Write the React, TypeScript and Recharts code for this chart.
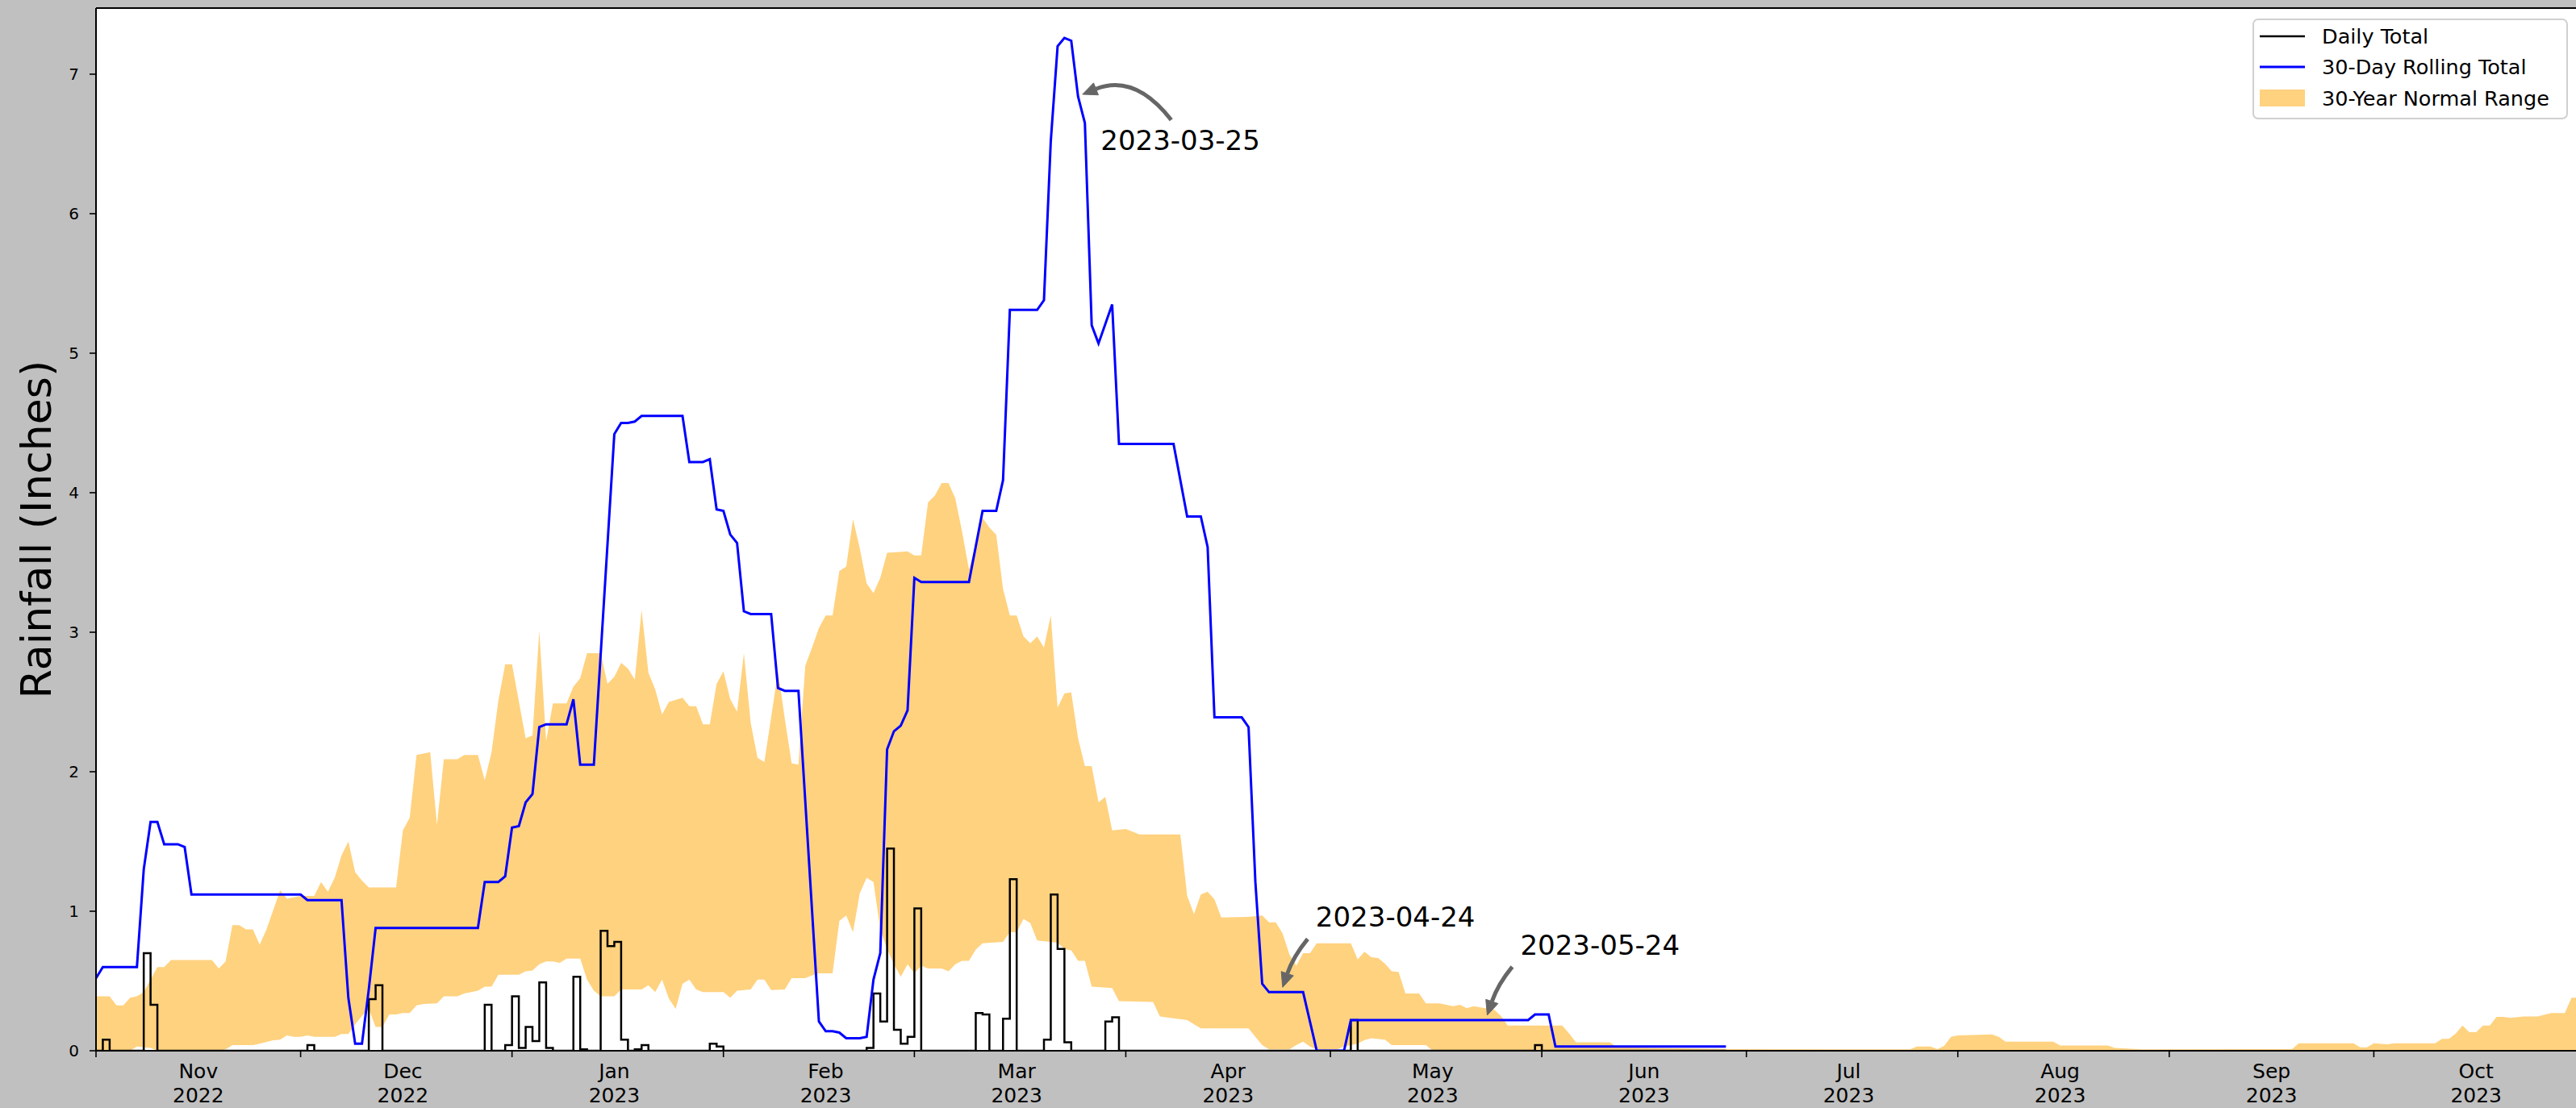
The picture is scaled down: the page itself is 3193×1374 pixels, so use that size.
import React from 'react';
import {
  ComposedChart,
  Line,
  Area,
  XAxis,
  YAxis,
  CartesianGrid,
  ReferenceLine,
  ReferenceDot,
} from 'recharts';

// ---------------------------------------------------------------------------
// Data  (day 0 = 2022-11-01)
// ---------------------------------------------------------------------------
const monthStartDays = [0, 30, 61, 92, 120, 151, 181, 212, 242, 273, 304, 334];
const monthLabelDays = [15, 45, 76, 107, 135, 166, 196, 227, 257, 288, 319, 349];
const monthNames = ['Nov', 'Dec', 'Jan', 'Feb', 'Mar', 'Apr', 'May', 'Jun', 'Jul', 'Aug', 'Sep', 'Oct'];
const monthYears = ['2022', '2022', '2023', '2023', '2023', '2023', '2023', '2023', '2023', '2023', '2023', '2023'];
const yTicks = [0, 1, 2, 3, 4, 5, 6, 7];

const seriesNames = ['Daily Total', '30-Day Rolling Total', '30-Year Normal Range'];

// daily rainfall (only the days with rain), record runs to day 239
const dailyLastDay = 239;
const rainDays = [1, 7, 8, 31, 40, 41, 57, 60, 61, 62, 63, 64, 65, 66, 70, 71, 74, 75, 76, 77, 79, 80, 90, 91,
  113, 114, 115, 116, 117, 118, 119, 120, 129, 130, 133, 134, 139, 140, 141, 142, 148, 149, 184, 211];
const rainValues = [0.08, 0.70, 0.33, 0.04, 0.37, 0.47, 0.33, 0.04, 0.39, 0.02, 0.17, 0.07, 0.49, 0.02, 0.53, 0.01,
  0.86, 0.75, 0.78, 0.08, 0.01, 0.04, 0.05, 0.03, 0.02, 0.41, 0.21, 1.45, 0.15, 0.05, 0.10, 1.02, 0.27, 0.26,
  0.23, 1.23, 0.08, 1.12, 0.73, 0.06, 0.21, 0.24, 0.22, 0.04];

// 30-day rolling total [day, inches]
const rolling: [number, number][] = [
  [0, 0.52], [1, 0.60], [6, 0.60], [7, 1.30], [8, 1.64], [9, 1.64], [10, 1.48], [12, 1.48], [13, 1.46], [14, 1.12],
  [30, 1.12], [31, 1.08], [36, 1.08], [37, 0.38], [38, 0.05], [39, 0.05], [40, 0.44], [41, 0.88], [56, 0.88],
  [57, 1.21], [59, 1.21], [60, 1.25], [61, 1.60], [62, 1.61], [63, 1.78], [64, 1.84], [65, 2.32], [66, 2.34],
  [69, 2.34], [70, 2.52], [71, 2.05], [73, 2.05], [76, 4.42], [77, 4.50], [78, 4.50], [79, 4.51], [80, 4.55],
  [86, 4.55], [87, 4.22], [89, 4.22], [90, 4.24], [91, 3.88], [92, 3.87], [93, 3.70], [94, 3.64], [95, 3.15],
  [96, 3.13], [99, 3.13], [100, 2.60], [101, 2.58], [103, 2.58], [106, 0.21], [107, 0.14], [108, 0.14],
  [109, 0.13], [110, 0.09], [112, 0.09], [113, 0.10], [114, 0.51], [115, 0.70], [116, 2.16], [117, 2.29],
  [118, 2.33], [119, 2.44], [120, 3.39], [121, 3.36], [128, 3.36], [130, 3.87], [132, 3.87], [133, 4.09],
  [134, 5.31], [138, 5.31], [139, 5.38], [140, 6.52], [141, 7.20], [142, 7.26], [143, 7.24], [144, 6.84],
  [145, 6.65], [146, 5.20], [147, 5.07], [149, 5.35], [150, 4.35], [158, 4.35], [160, 3.83], [162, 3.83],
  [163, 3.61], [164, 2.39], [168, 2.39], [169, 2.32], [170, 1.21], [171, 0.48], [172, 0.42], [177, 0.42],
  [179, 0.00], [183, 0.00], [184, 0.22], [210, 0.22], [211, 0.26], [213, 0.26], [214, 0.03], [239, 0.03],
];

// 30-year normal range, upper edge [day, inches]
const normalHigh: [number, number][] = [
  [0, 0.39], [2, 0.39], [3, 0.325], [4, 0.325], [5, 0.38], [6, 0.39], [7, 0.42], [9, 0.60], [10, 0.60], [11, 0.65],
  [17, 0.65], [18, 0.59], [19, 0.64], [20, 0.90], [21, 0.90], [22, 0.87], [23, 0.87], [24, 0.76], [25, 0.87],
  [26, 1.01], [27, 1.15], [28, 1.09], [30, 1.11], [32, 1.11], [33, 1.21], [34, 1.14], [35, 1.24], [36, 1.40],
  [37, 1.50], [38, 1.28], [39, 1.22], [40, 1.17], [44, 1.17], [45, 1.58], [46, 1.67], [47, 2.12], [49, 2.14],
  [50, 1.62], [51, 2.09], [53, 2.09], [54, 2.12], [56, 2.12], [57, 1.94], [58, 2.14], [59, 2.51], [60, 2.77],
  [61, 2.77], [63, 2.24], [64, 2.26], [65, 3.01], [66, 2.22], [67, 2.49], [69, 2.49], [70, 2.61], [71, 2.67],
  [72, 2.85], [74, 2.85], [75, 2.63], [76, 2.68], [77, 2.78], [78, 2.74], [79, 2.66], [80, 3.16], [81, 2.71],
  [82, 2.59], [83, 2.41], [84, 2.50], [86, 2.53], [87, 2.47], [88, 2.47], [89, 2.34], [90, 2.34], [91, 2.63],
  [92, 2.72], [93, 2.52], [94, 2.43], [95, 2.85], [96, 2.35], [97, 2.10], [98, 2.07], [99, 2.39], [100, 2.72],
  [101, 2.38], [102, 2.06], [103, 2.05], [104, 2.76], [105, 2.89], [106, 3.03], [107, 3.12], [108, 3.12],
  [109, 3.44], [110, 3.47], [111, 3.81], [112, 3.60], [113, 3.35], [114, 3.28], [115, 3.39], [116, 3.57],
  [119, 3.58], [120, 3.55], [121, 3.55], [122, 3.93], [123, 3.98], [124, 4.07], [125, 4.07], [126, 3.96],
  [127, 3.72], [128, 3.45], [130, 3.82], [131, 3.75], [132, 3.70], [133, 3.31], [134, 3.12], [135, 3.12],
  [136, 2.97], [137, 2.92], [138, 2.97], [139, 2.89], [140, 3.12], [141, 2.46], [142, 2.56], [143, 2.57],
  [144, 2.24], [145, 2.04], [146, 2.04], [147, 1.78], [148, 1.82], [149, 1.58], [151, 1.59], [153, 1.55],
  [159, 1.55], [160, 1.11], [161, 0.98], [162, 1.12], [163, 1.14], [164, 1.085], [165, 0.955], [169, 0.96],
  [171, 0.97], [172, 0.92], [173, 0.92], [174, 0.84], [175, 0.69], [176, 0.61], [177, 0.70], [178, 0.70],
  [179, 0.77], [184, 0.77], [185, 0.655], [186, 0.71], [187, 0.67], [188, 0.665], [189, 0.625], [190, 0.57],
  [191, 0.565], [192, 0.41], [194, 0.41], [195, 0.34], [197, 0.34], [199, 0.32], [200, 0.33], [201, 0.305],
  [202, 0.32], [203, 0.31], [205, 0.295], [206, 0.25], [207, 0.18], [215, 0.18], [216, 0.125], [217, 0.06],
  [222, 0.06], [223, 0.025], [228, 0.02], [240, 0.012], [266, 0.01], [267, 0.03], [269, 0.03], [270, 0.012],
  [271, 0.035], [272, 0.10], [273, 0.11], [278, 0.117], [279, 0.10], [280, 0.065], [287, 0.065], [288, 0.037],
  [295, 0.037], [296, 0.02], [300, 0.01], [322, 0.012], [323, 0.054], [331, 0.054], [332, 0.025], [333, 0.025],
  [334, 0.054], [336, 0.046], [337, 0.054], [343, 0.054], [344, 0.085], [345, 0.085], [346, 0.123], [347, 0.18],
  [348, 0.133], [349, 0.133], [350, 0.18], [351, 0.18], [352, 0.243], [353, 0.243], [354, 0.235], [356, 0.245],
  [358, 0.245], [360, 0.27], [362, 0.27], [363, 0.38], [364, 0.38],
];

// 30-year normal range, lower edge [day, inches]
const normalLow: [number, number][] = [
  [0, 0.0], [5, 0.0], [6, 0.03], [8, 0.02], [9, 0.0], [18, 0.0], [19, 0.01], [20, 0.04], [23, 0.04], [24, 0.05],
  [26, 0.075], [27, 0.08], [28, 0.11], [29, 0.10], [30, 0.10], [31, 0.11], [32, 0.10], [35, 0.10], [36, 0.12],
  [37, 0.12], [38, 0.19], [39, 0.25], [40, 0.30], [41, 0.17], [42, 0.17], [43, 0.26], [44, 0.26], [45, 0.27],
  [46, 0.27], [47, 0.325], [48, 0.335], [50, 0.34], [51, 0.39], [53, 0.39], [54, 0.41], [56, 0.43], [57, 0.46],
  [58, 0.46], [59, 0.545], [62, 0.545], [63, 0.57], [64, 0.575], [65, 0.62], [66, 0.64], [67, 0.64], [68, 0.63],
  [69, 0.66], [71, 0.66], [72, 0.51], [73, 0.43], [74, 0.39], [76, 0.39], [77, 0.44], [80, 0.44], [81, 0.47],
  [82, 0.42], [83, 0.51], [84, 0.375], [85, 0.30], [86, 0.48], [87, 0.51], [88, 0.44], [89, 0.42], [92, 0.42],
  [93, 0.38], [94, 0.43], [96, 0.44], [97, 0.51], [98, 0.51], [99, 0.435], [101, 0.44], [102, 0.52], [104, 0.52],
  [105, 0.54], [106, 0.555], [108, 0.555], [109, 0.93], [110, 0.97], [111, 0.85], [112, 1.13], [113, 1.24],
  [114, 1.21], [115, 0.87], [116, 0.73], [117, 0.62], [118, 0.53], [119, 0.62], [120, 0.555], [121, 0.61],
  [122, 0.59], [124, 0.59], [125, 0.57], [126, 0.62], [127, 0.645], [128, 0.645], [129, 0.725], [130, 0.77],
  [133, 0.78], [134, 0.85], [135, 0.85], [136, 0.945], [137, 0.915], [138, 0.79], [141, 0.775], [142, 0.73],
  [143, 0.72], [144, 0.645], [145, 0.645], [146, 0.46], [149, 0.45], [150, 0.355], [155, 0.35], [156, 0.245],
  [160, 0.22], [162, 0.16], [169, 0.16], [170, 0.10], [171, 0.04], [172, 0.01], [175, 0.01], [176, 0.04],
  [177, 0.065], [178, 0.03], [179, 0.01], [182, 0.01], [183, 0.03], [185, 0.05], [186, 0.077], [187, 0.09],
  [189, 0.08], [190, 0.04], [195, 0.04], [196, 0.0], [364, 0.0],
];

// annotated points on the rolling total
const annotationDates = ['2023-03-25', '2023-04-24', '2023-05-24'];
const annotationDays = [144, 174, 204];
const annotationValues = [6.84, 0.42, 0.22];

// ---------------------------------------------------------------------------
// Tables built from the arrays above
// ---------------------------------------------------------------------------
const dailyData = Array.from({ length: dailyLastDay + 1 }, (_, d) => {
  const i = rainDays.indexOf(d);
  return { day: d, value: i >= 0 ? rainValues[i] : 0 };
});
const rollingData = rolling.map(([day, value]) => ({ day, value }));
const highData = normalHigh.map(([day, value]) => ({ day, value }));
const lowData = normalLow.map(([day, value]) => ({ day, value }));
const xTicks = [...monthStartDays, ...monthLabelDays].sort((a, b) => a - b);

// ---------------------------------------------------------------------------
// Styling
// ---------------------------------------------------------------------------
const W = 3193;
const H = 1374;
const CHART_W = 3200;
const FONT = "'DejaVu Sans', 'Liberation Sans', sans-serif";
const Y_MAX = 7.474;
const X_MAX = 364;
const BAND_FILL = '#FFD27F';
const ARROW = '#666666';

const renderXTick = (props: any) => {
  const { x, y, payload } = props;
  const v = payload.value;
  const si = monthStartDays.indexOf(v);
  if (si >= 0) {
    return <line x1={x} x2={x} y1={y} y2={y + 8} stroke="#000" strokeWidth={1.6} />;
  }
  const li = monthLabelDays.indexOf(v);
  if (li < 0) return <g />;
  return (
    <text textAnchor="middle" fontFamily={FONT} fontSize={25} fill="#000">
      <tspan x={x} y={y + 34}>{monthNames[li]}</tspan>
      <tspan x={x} y={y + 64}>{monthYears[li]}</tspan>
    </text>
  );
};

const renderYLabel = (props: any) => {
  const vb = props && props.viewBox ? props.viewBox : { x: 0, y: 10, width: 119, height: 1293 };
  const cx = 45;
  const cy = vb.y + vb.height / 2;
  return (
    <text
      x={cx}
      y={cy}
      transform={`rotate(-90 ${cx} ${cy})`}
      textAnchor="middle"
      dominantBaseline="central"
      fontFamily={FONT}
      fontSize={52}
      fill="#000"
    >
      Rainfall (Inches)
    </text>
  );
};

type ArrowGeom = {
  tail: [number, number];
  ctrl: [number, number];
  tip: [number, number];
  textDx: number;
  textDy: number;
};
const arrowGeoms: ArrowGeom[] = [
  { tail: [115.5, 29], ctrl: [70.4, -28.7], tip: [5.5, -2.7], textDx: 28, textDy: 54 },
  { tail: [31, -66], ctrl: [13, -44], tip: [0, -6], textDx: 41, textDy: -93 },
  { tail: [31, -66], ctrl: [13, -44], tip: [0, -6], textDx: 41, textDy: -93 },
];

const Annotation = ({ cx, cy, text, g }: { cx: number; cy: number; text: string; g: ArrowGeom }) => {
  const tx = cx + g.tip[0];
  const ty = cy + g.tip[1];
  const qx = cx + g.ctrl[0];
  const qy = cy + g.ctrl[1];
  const sx = cx + g.tail[0];
  const sy = cy + g.tail[1];
  let ux = tx - qx;
  let uy = ty - qy;
  const len = Math.hypot(ux, uy) || 1;
  ux /= len;
  uy /= len;
  const L = 18;
  const Wd = 8;
  const bx = tx - ux * L;
  const by = ty - uy * L;
  const nx = -uy;
  const ny = ux;
  return (
    <g>
      <path d={`M${sx},${sy} Q${qx},${qy} ${bx},${by}`} fill="none" stroke={ARROW} strokeWidth={5} />
      <polygon
        points={`${tx},${ty} ${bx + nx * Wd},${by + ny * Wd} ${bx - nx * Wd},${by - ny * Wd}`}
        fill={ARROW}
        stroke={ARROW}
        strokeWidth={1}
      />
      <text
        x={cx + g.textDx}
        y={cy + g.textDy}
        dominantBaseline="central"
        fontFamily={FONT}
        fontSize={34}
        fill="#000"
      >
        {text}
      </text>
    </g>
  );
};

const LegendBox = () => {
  const rows = [22, 60, 99];
  return (
    <div
      style={{
        position: 'absolute',
        left: 2792,
        top: 23,
        width: 391,
        height: 125,
        boxSizing: 'border-box',
        border: '2px solid #d0d0d0',
        borderRadius: 7,
        background: 'rgba(255,255,255,0.85)',
      }}
    >
      <svg width={387} height={121} style={{ position: 'absolute', left: 0, top: 0 }}>
        <line x1={7} x2={63} y1={rows[0] - 2} y2={rows[0] - 2} stroke="#000" strokeWidth={2.5} />
        <line x1={7} x2={63} y1={rows[1] - 2} y2={rows[1] - 2} stroke="#0000ff" strokeWidth={3} />
        <rect x={7} y={rows[2] - 13} width={56} height={21} fill={BAND_FILL} />
        {seriesNames.map((n, i) => (
          <text key={n} x={84} y={rows[i] - 2} dominantBaseline="central" fontFamily={FONT} fontSize={25.5} fill="#000">
            {n}
          </text>
        ))}
      </svg>
    </div>
  );
};

export default function App() {
  return (
    <div
      style={{
        position: 'absolute',
        left: 0,
        top: 0,
        width: W,
        height: H,
        background: '#c0c0c0',
        overflow: 'hidden',
      }}
    >
      <ComposedChart width={CHART_W} height={H} margin={{ top: 10, right: 4, bottom: 0, left: 0 }}>
        <CartesianGrid horizontal={false} vertical={false} fill="#ffffff" />
        <XAxis
          dataKey="day"
          type="number"
          domain={[0, X_MAX]}
          allowDataOverflow
          ticks={xTicks}
          interval={0}
          height={71}
          tickSize={0}
          tickMargin={0}
          tickLine={false}
          axisLine={{ stroke: '#000', strokeWidth: 2 }}
          tick={renderXTick}
        />
        <YAxis
          type="number"
          domain={[0, Y_MAX]}
          allowDataOverflow
          ticks={yTicks}
          interval={0}
          width={119}
          tickSize={8}
          tickMargin={13}
          axisLine={{ stroke: '#000', strokeWidth: 2 }}
          tickLine={{ stroke: '#000', strokeWidth: 1.6 }}
          tick={{ fontSize: 20, fill: '#000', fontFamily: FONT }}
          label={renderYLabel}
        />
        <Area
          data={highData}
          dataKey="value"
          name={seriesNames[2]}
          type="linear"
          stroke="none"
          fill={BAND_FILL}
          fillOpacity={1}
          isAnimationActive={false}
        />
        <Area
          data={lowData}
          dataKey="value"
          type="linear"
          stroke="none"
          fill="#ffffff"
          fillOpacity={1}
          legendType="none"
          isAnimationActive={false}
        />
        <Line
          data={dailyData}
          dataKey="value"
          name={seriesNames[0]}
          type="stepAfter"
          stroke="#000"
          strokeWidth={2.5}
          dot={false}
          activeDot={false}
          isAnimationActive={false}
        />
        <Line
          data={rollingData}
          dataKey="value"
          name={seriesNames[1]}
          type="linear"
          stroke="#0000ff"
          strokeWidth={3}
          dot={false}
          activeDot={false}
          isAnimationActive={false}
        />
        <ReferenceLine y={Y_MAX} stroke="#000" strokeWidth={2} />
        {annotationDays.map((d, i) => (
          <ReferenceDot
            key={annotationDates[i]}
            x={d}
            y={annotationValues[i]}
            r={0}
            shape={(p: any) => <Annotation cx={p.cx} cy={p.cy} text={annotationDates[i]} g={arrowGeoms[i]} />}
          />
        ))}
      </ComposedChart>
      <LegendBox />
    </div>
  );
}
